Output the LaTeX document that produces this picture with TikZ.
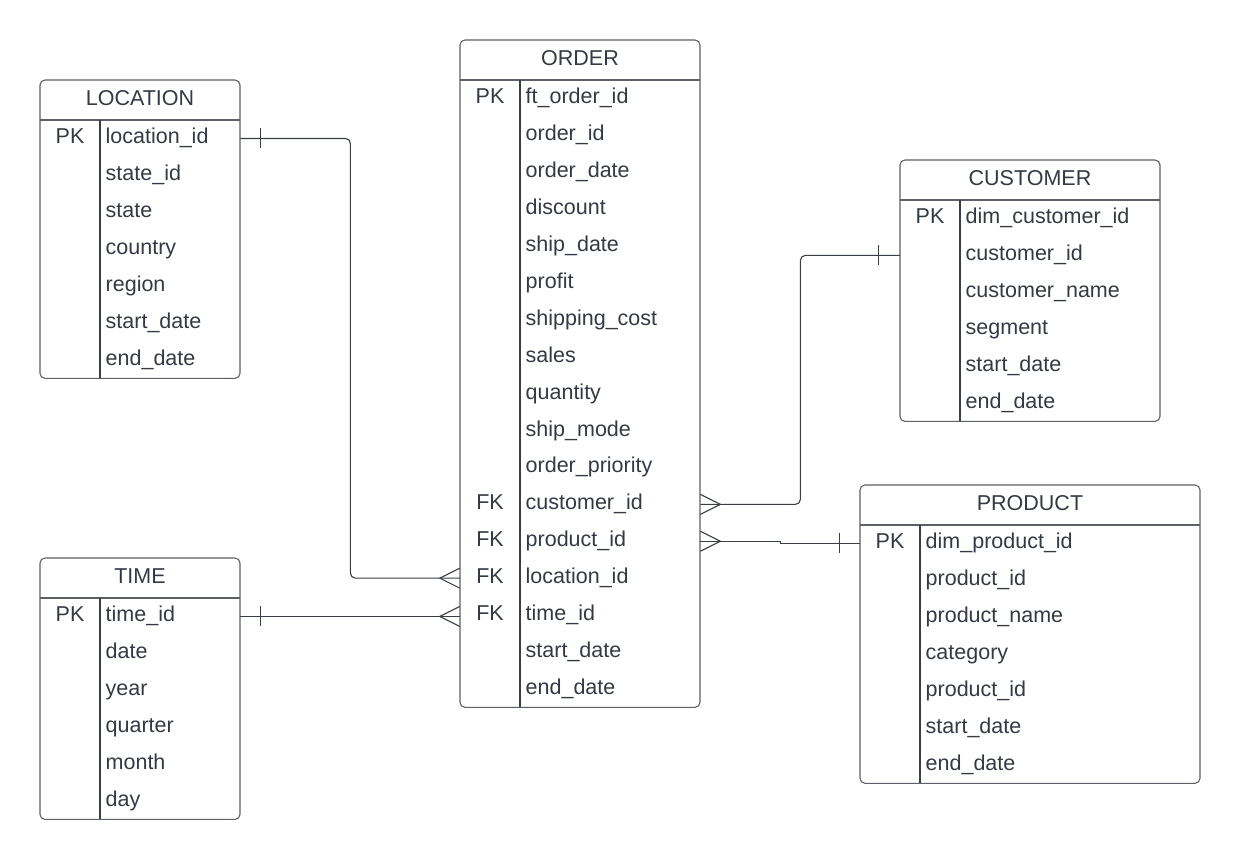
\documentclass[tikz,border=0pt]{standalone}
\usepackage{fontspec}
\setmainfont{Liberation Sans}
\usepackage{tikz}
\usetikzlibrary{calc,positioning}

\definecolor{ertext}{HTML}{333A44}
\definecolor{erline}{HTML}{5C6068}
\definecolor{erdiv}{HTML}{3A3F47}

\def\rowht{36.9}

\tikzset{
  tabline/.style={draw=erline, line width=1.1pt},
  divline/.style={draw=erdiv, line width=1.1pt},
  rel/.style={draw=erdiv, line width=1.1pt},
  tabhead/.style={inner sep=0pt, minimum height=40pt, text=ertext,
    font=\fontsize{21.5}{25}\selectfont, text height=14pt, text depth=3pt},
  keycell/.style={inner sep=0pt, minimum width=60pt, minimum height=\rowht pt,
    text=ertext, font=\fontsize{21.5}{25}\selectfont, text height=14pt, text depth=3pt},
  fieldcell/.style={inner xsep=5.5pt, inner ysep=0pt, minimum height=\rowht pt, anchor=west,
    align=left, text=ertext, font=\fontsize{21.5}{25}\selectfont, text height=14pt, text depth=3pt},
  barmark/.pic={\draw[rel] (0,-10) -- (0,10);},
  crowfoot/.pic={\draw[rel] (0,-10) -- (-20,0) -- (0,10);}
}

% one table: name, left, top, width, number of rows, title, key/field list
\newcommand{\ertable}[7]{%
  \pgfmathsetmacro\fw{#4-71}
  \node[tabhead, minimum width=#4pt] (#1) at (#2+#4/2,#3+20) {#6};
  \foreach \k/\f [count=\i] in {#7} {
    \node[keycell] (#1-k\i) at (#2+30,#3+40+\i*\rowht-\rowht/2) {\k};
    \node[fieldcell, text width=\fw pt] (#1-\i) at (#2+60,#3+40+\i*\rowht-\rowht/2) {\f};
  }
  \draw[tabline, rounded corners=5pt] (#2,#3) rectangle (#2+#4,#3+40+#5*\rowht);
  \draw[tabline] (#2,#3+40) -- (#2+#4,#3+40);
  \draw[divline] (#2+60,#3+40) -- (#2+60,#3+40+#5*\rowht);
}

\begin{document}
\begin{tikzpicture}[x=1pt, y=-1pt]
  \useasboundingbox (0,0) rectangle (1240,860);
  % Dimension and fact tables
  \ertable{loc}{40}{80}{200}{7}{LOCATION}{PK/location\_id, /state\_id, /state, /country, /region, /start\_date, /end\_date}
  \ertable{time}{40}{558}{200}{6}{TIME}{PK/time\_id, /date, /year, /quarter, /month, /day}
  \ertable{ord}{460}{40}{240}{17}{ORDER}{PK/ft\_order\_id, /order\_id, /order\_date, /discount, /ship\_date, /profit, /shipping\_cost, /sales, /quantity, /ship\_mode, /order\_priority, FK/customer\_id, FK/product\_id, FK/location\_id, FK/time\_id, /start\_date, /end\_date}
  \ertable{cust}{900}{160}{260}{6}{CUSTOMER}{PK/dim\_customer\_id, /customer\_id, /customer\_name, /segment, /start\_date, /end\_date}
  \ertable{prod}{860}{485}{340}{7}{PRODUCT}{PK/dim\_product\_id, /product\_id, /product\_name, /category, /product\_id, /start\_date, /end\_date}
  % Relationships
  \draw[rel, rounded corners=5pt] (loc-1.east) -- ++(110,0) |- (ord-k14.west);
  \draw[rel] (time-1.east) -- (time-1.east -| ord-k15.west);
  \draw[rel, rounded corners=5pt] (ord-12.east) -- ++(100,0) |- (cust-k2.west);
  \draw[rel] (ord-13.east) -- ++(80,0) |- (prod-k1.west);
  % Cardinality marks
  \pic at ($(loc-1.east)+(20,0)$) {barmark};
  \pic at ($(time-1.east)+(20,0)$) {barmark};
  \pic at ($(cust-k2.west)+(-21,0)$) {barmark};
  \pic at ($(prod-k1.west)+(-20,0)$) {barmark};
  \pic at (ord-k14.west) {crowfoot};
  \pic at (time-1.east -| ord-k15.west) {crowfoot};
  \pic[rotate=180] at (ord-12.east) {crowfoot};
  \pic[rotate=180] at (ord-13.east) {crowfoot};
\end{tikzpicture}
\end{document}
